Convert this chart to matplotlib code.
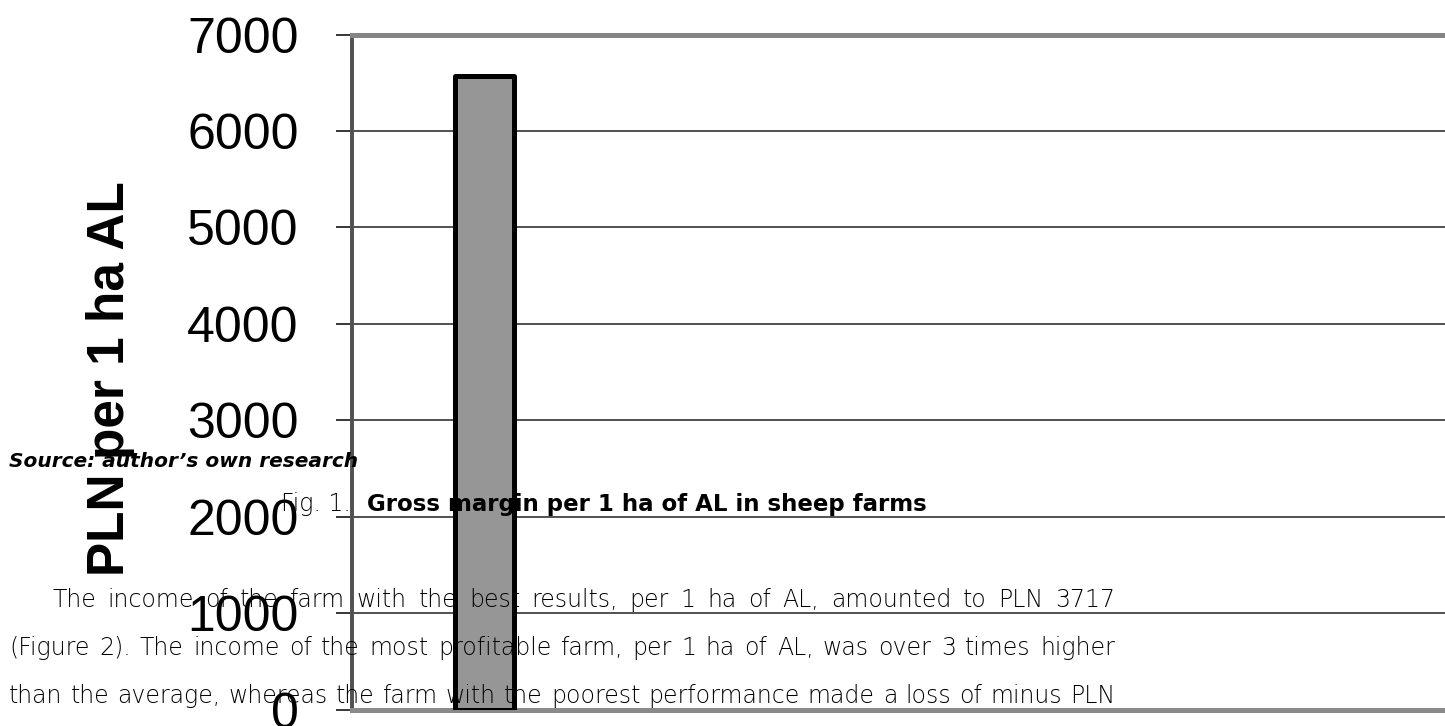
import matplotlib
matplotlib.use('Agg')
import matplotlib.pyplot as plt

# ---- data ----
categories = ['Farm 1']
values = [6570]
yticks = [0, 1000, 2000, 3000, 4000, 5000, 6000, 7000]
ylabel = 'PLN per 1 ha AL'

source_text = 'Source: author\u2019s own research'
fig_prefix = 'Fig. 1.'
fig_title = 'Gross margin per 1 ha of AL in sheep farms'
body_lines = [
    'The income of the farm with the best results, per 1 ha of AL, amounted to PLN 3717',
    '(Figure 2). The income of the most profitable farm, per 1 ha of AL, was over 3 times higher',
    'than the average, whereas the farm with the poorest performance made a loss of minus PLN',
]

W, H = 1445, 726
fig = plt.figure(figsize=(W / 100, H / 100), dpi=100)
fig.patch.set_facecolor('white')

y_top, y_bot, x_left = 34.6, 709.5, 352
ax = fig.add_axes([x_left / W, (H - y_bot) / H, (W - x_left) / W + 0.005, (y_bot - y_top) / H])

ax.bar(range(len(categories)), values, width=0.6, color='#969696',
       edgecolor='black', linewidth=3.6, joinstyle='round', zorder=3)
ax.set_xlim(-1.36, 9.94)
ax.set_ylim(0, 7000)
ax.set_yticks(yticks)
ax.set_xticks([])
ax.yaxis.grid(True, color='#333333', linewidth=1.2)
ax.set_axisbelow(True)
ax.tick_params(axis='y', length=11.5, width=1.1, color='black', pad=27,
               labelsize=36, labelfontfamily='Liberation Sans')
ax.spines['right'].set_visible(False)
ax.spines['top'].set_color('#858585')
ax.spines['top'].set_linewidth(3.6)
ax.spines['bottom'].set_color('#8a8a8a')
ax.spines['bottom'].set_linewidth(3.6)
ax.spines['left'].set_color('#505050')
ax.spines['left'].set_linewidth(2.8)

ax.set_ylabel(ylabel, fontsize=37, fontweight='bold', family='Liberation Sans')
ax_w_px = (W - x_left) + 0.005 * W
ax.yaxis.set_label_coords((135 - x_left) / ax_w_px, 0.49)

r = fig.canvas.get_renderer()


def fx(px):
    return px / W


def fy(py):
    return 1 - py / H


def justify(line, x0, x1, ybase, size, **kw):
    words = line.split(' ')
    texts = [fig.text(0, 0, w, fontsize=size, va='baseline', ha='left', **kw) for w in words]
    widths = [t.get_window_extent(r).width for t in texts]
    gap = (x1 - x0 - sum(widths)) / (len(words) - 1)
    x = x0
    for t, w in zip(texts, widths):
        t.set_position((fx(x), fy(ybase)))
        x += w + gap


body_size = 17
body_kw = dict(family='DejaVu Sans', fontweight='light', color='#000000', zorder=5)
justify(body_lines[0], 52, 1115, 607, body_size, **body_kw)
justify(body_lines[1], 9, 1115, 655, body_size, **body_kw)
justify(body_lines[2], 9, 1115, 703, body_size, **body_kw)

fig.text(fx(9), fy(467), source_text, fontsize=14.5, fontweight='bold', fontstyle='italic',
         family='DejaVu Sans', va='baseline', ha='left', zorder=5)

fig.text(fx(281), fy(511), fig_prefix, fontsize=body_size, fontweight='light',
         family='DejaVu Sans', color='#000000', va='baseline', ha='left', zorder=5)
t = fig.text(fx(367), fy(511), fig_title, fontsize=14.8, fontweight='bold',
             family='DejaVu Sans', va='baseline', ha='left', zorder=5)
w = t.get_window_extent(r).width
t.set_fontsize(14.8 * (926 - 367) / w)

fig.savefig('out.png', dpi=100)
